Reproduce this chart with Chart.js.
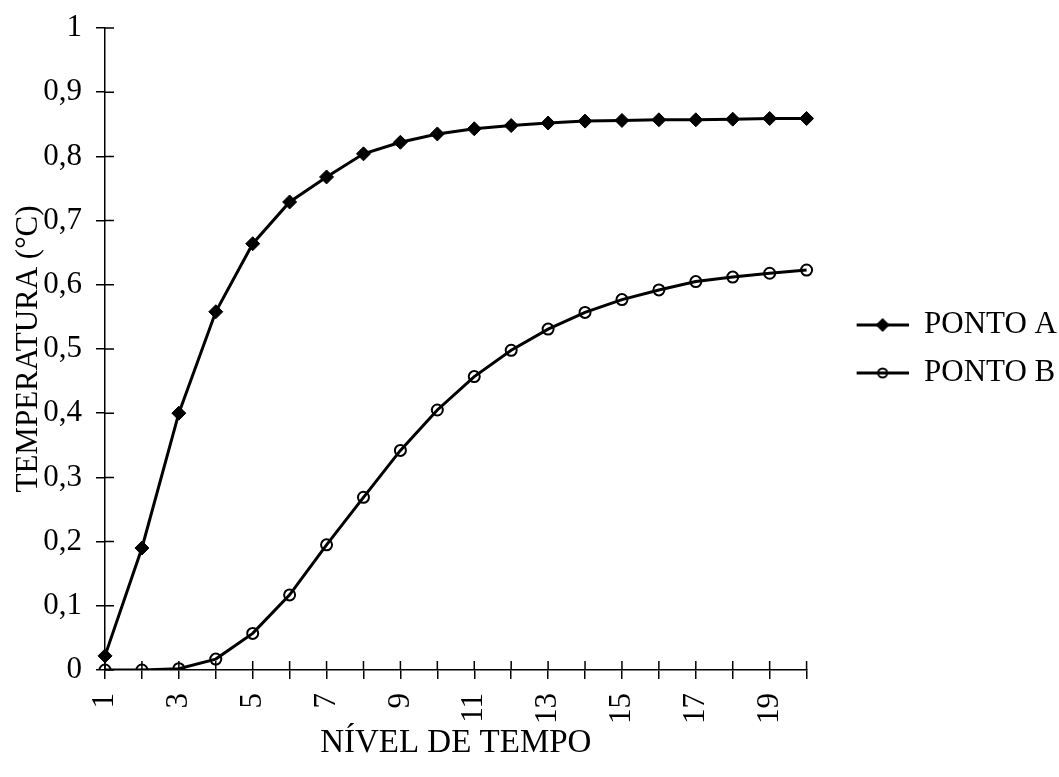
<!DOCTYPE html>
<html>
<head>
<meta charset="utf-8">
<script src="https://cdn.jsdelivr.net/npm/chart.js@4.4.0/dist/chart.umd.min.js"></script>
<style>
  html, body { margin: 0; padding: 0; background: #fff; }
</style>
</head>
<body>
<canvas id="grafico" width="1059" height="777"></canvas>
<script>
    const niveis = [1, 2, 3, 4, 5, 6, 7, 8, 9, 10, 11, 12, 13, 14, 15, 16, 17, 18, 19, 20];
    const pontoA = [0.022, 0.19, 0.40, 0.558, 0.664, 0.729, 0.768, 0.804, 0.822, 0.835,
        0.843, 0.848, 0.852, 0.855, 0.856, 0.857, 0.857, 0.858, 0.859, 0.859];
    const pontoB = [0, 0, 0.002, 0.017, 0.057, 0.117, 0.195, 0.269, 0.342, 0.405,
        0.457, 0.498, 0.531, 0.557, 0.577, 0.592, 0.605, 0.612, 0.618, 0.623];
    const yTicks = [0, 0.1, 0.2, 0.3, 0.4, 0.5, 0.6, 0.7, 0.8, 0.9, 1];

    const familia = '"Liberation Serif", "Times New Roman", serif';
    const fonte = { family: familia, size: 31 };

    // legend symbol: a short line with the marker in the middle (left part left blank as a gap)
    const simbolo = (estilo) => {
        let c = document.createElement('canvas');
        c.width = 85; c.height = 16;
        let ctx = c.getContext('2d');
        ctx.strokeStyle = '#000';
        ctx.lineWidth = 3;
        ctx.beginPath(); ctx.moveTo(33, 8); ctx.lineTo(85, 8); ctx.stroke();
        ctx.beginPath();
        if (estilo === 'diamante') {
            ctx.fillStyle = '#000';
            ctx.moveTo(59, 1); ctx.lineTo(66, 8); ctx.lineTo(59, 15); ctx.lineTo(52, 8);
            ctx.closePath(); ctx.fill();
        } else {
            ctx.lineWidth = 2;
            ctx.arc(59, 8, 4.5, 0, Math.PI * 2); ctx.stroke();
        }
        return c;
    };
    const simbolos = [simbolo('diamante'), simbolo('circulo')];

    // tick marks crossing into the plot area
    const ticksInternos = {
        id: 'ticksInternos',
        afterDraw(chart) {
            let ctx = chart.ctx, x = chart.scales.x, y = chart.scales.y;
            ctx.save();
            ctx.strokeStyle = '#000';
            ctx.lineWidth = 1.5;
            ctx.beginPath();
            y.ticks.forEach((t, i) => {
                let py = y.getPixelForTick(i);
                ctx.moveTo(x.left, py); ctx.lineTo(x.left + 9, py);
            });
            x.ticks.forEach((t, i) => {
                let px = x.getPixelForTick(i);
                ctx.moveTo(px, y.bottom); ctx.lineTo(px, y.bottom - 9);
            });
            ctx.stroke();
            ctx.restore();
        }
    };

    new Chart(document.getElementById('grafico').getContext('2d'), {
        type: 'line',
        data: {
            labels: niveis,
            datasets: [{
                label: 'PONTO A',
                data: pontoA,
                borderColor: '#000',
                backgroundColor: '#000',
                borderWidth: 3,
                pointStyle: 'rectRot',
                pointRadius: 7,
                pointBorderWidth: 1,
                tension: 0
            }, {
                label: 'PONTO B',
                data: pontoB,
                borderColor: '#000',
                backgroundColor: 'rgba(0,0,0,0)',
                borderWidth: 3,
                pointStyle: 'circle',
                pointRadius: 5.5,
                pointBorderWidth: 2,
                tension: 0
            }]
        },
        options: {
            responsive: false,
            animation: false,
            layout: { padding: { top: 28, right: -8, left: 0, bottom: 0 } },
            plugins: {
                tooltip: { enabled: false },
                legend: {
                    position: 'right',
                    fullSize: false,
                    labels: {
                        color: '#000',
                        font: fonte,
                        usePointStyle: true,
                        pointStyleWidth: 85,
                        padding: 17,
                        generateLabels: (chart) => chart.data.datasets.map((ds, i) => ({
                            text: ds.label,
                            pointStyle: simbolos[i],
                            fillStyle: '#000',
                            strokeStyle: '#000',
                            lineWidth: 0,
                            fontColor: '#000',
                            datasetIndex: i
                        }))
                    }
                }
            },
            scales: {
                x: {
                    offset: false,
                    afterFit: (s) => { s.height = 107; },
                    border: { color: '#000', width: 1.5 },
                    grid: { drawOnChartArea: false, color: '#000', lineWidth: 1.5, tickLength: 9 },
                    ticks: {
                        color: '#000',
                        font: fonte,
                        autoSkip: false,
                        minRotation: 90,
                        maxRotation: 90,
                        padding: 14,
                        callback: (v, i) => i % 2 === 0 ? String(niveis[i]) : ''
                    },
                    title: {
                        display: true,
                        text: 'NÍVEL DE TEMPO',
                        color: '#000',
                        font: { family: familia, size: 33 },
                        padding: { top: 0, bottom: 14 }
                    }
                },
                y: {
                    min: 0,
                    max: 1,
                    afterFit: (s) => { s.width = 105; s.paddingTop = 0; s.paddingBottom = 0; },
                    afterBuildTicks: (s) => { s.ticks = yTicks.map(v => ({ value: v })); },
                    border: { color: '#000', width: 1.5 },
                    grid: { drawOnChartArea: false, color: '#000', lineWidth: 1.5, tickLength: 9 },
                    ticks: {
                        color: '#000',
                        font: fonte,
                        padding: 14,
                        callback: (v) => (v === 0 || v === 1) ? String(v) : v.toFixed(1).replace('.', ',')
                    },
                    title: {
                        display: true,
                        text: 'TEMPERATURA (°C)',
                        color: '#000',
                        font: fonte,
                        padding: { top: 10, bottom: 0 }
                    }
                }
            }
        },
        plugins: [ticksInternos]
    });
</script>
</body>
</html>
